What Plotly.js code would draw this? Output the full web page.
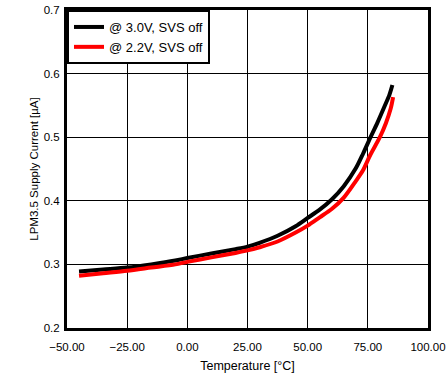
<!DOCTYPE html>
<html><head><meta charset="utf-8">
<script src="https://cdn.plot.ly/plotly-3.0.1.min.js"></script>
<style>html,body{margin:0;padding:0;background:#fff;}#chart{width:446px;height:388px;}</style>
</head><body><div id="chart"></div>
<script>
const seriesNames = ["@ 3.0V, SVS off", "@ 2.2V, SVS off"];
const tempBlack = [-45, -35, -25, -15, -5, 0, 10, 20, 25, 30, 37.5, 45, 50, 55, 60, 65, 70, 73, 76, 79, 82, 84, 85.2];
const currBlack = [0.289, 0.292, 0.295, 0.300, 0.306, 0.310, 0.317, 0.324, 0.328, 0.334, 0.345, 0.360, 0.373, 0.386, 0.402, 0.423, 0.451, 0.474, 0.499, 0.523, 0.549, 0.567, 0.582];
const tempRed = [-45, -35, -25, -15, -5, 0, 10, 20, 25, 30, 37.5, 45, 50, 55, 60, 65, 70, 73, 76, 80, 82.5, 84.5, 85.5];
const currRed = [0.282, 0.286, 0.290, 0.295, 0.300, 0.304, 0.311, 0.318, 0.322, 0.327, 0.336, 0.350, 0.361, 0.374, 0.387, 0.405, 0.431, 0.448, 0.472, 0.500, 0.522, 0.545, 0.563];
const xTicks = [-50, -25, 0, 25, 50, 75, 100];
const yTicks = [0.2, 0.3, 0.4, 0.5, 0.6, 0.7];

const fam = "Liberation Sans, Arial, sans-serif";
const traces = [
  {x: tempBlack, y: currBlack, name: seriesNames[0], mode: "lines", line: {color: "#000000", width: 4, shape: "spline", smoothing: 0.8}},
  {x: tempRed, y: currRed, name: seriesNames[1], mode: "lines", line: {color: "#ff0000", width: 4, shape: "spline", smoothing: 0.8}}
];
const layout = {
  width: 446, height: 388,
  margin: {l: 67, r: 18, t: 10, b: 60},
  paper_bgcolor: "#fff", plot_bgcolor: "#fff",
  font: {family: fam, size: 11, color: "#000"},
  showlegend: true,
  legend: {x: 0, y: 1, xanchor: "left", yanchor: "top", bgcolor: "#fff", bordercolor: "#000", borderwidth: 2,
           font: {family: fam, size: 13, color: "#000"}, tracegroupgap: 0},
  xaxis: {range: [-50, 100], tickvals: xTicks, tickformat: ".2f", showgrid: true, gridcolor: "#000", gridwidth: 1,
          zeroline: false, showline: true, linecolor: "#000", linewidth: 3, mirror: true, ticks: "", ticklabelstandoff: 6,
          tickfont: {family: fam, size: 11.5, color: "#000"},
          title: {text: "Temperature [°C]", font: {family: fam, size: 12.5, color: "#000"}, standoff: 10}},
  yaxis: {range: [0.2, 0.7], tickvals: yTicks, tickformat: ".1f", showgrid: true, gridcolor: "#000", gridwidth: 1,
          zeroline: false, showline: true, linecolor: "#000", linewidth: 3, mirror: true, ticks: "", ticklabelstandoff: 2,
          tickfont: {family: fam, size: 11.5, color: "#000"},
          title: {text: "LPM3.5 Supply Current [µA]", font: {family: fam, size: 11.5, color: "#000"}, standoff: 3}}
};
Plotly.newPlot("chart", traces, layout, {displayModeBar: false, staticPlot: true});
</script></body></html>
